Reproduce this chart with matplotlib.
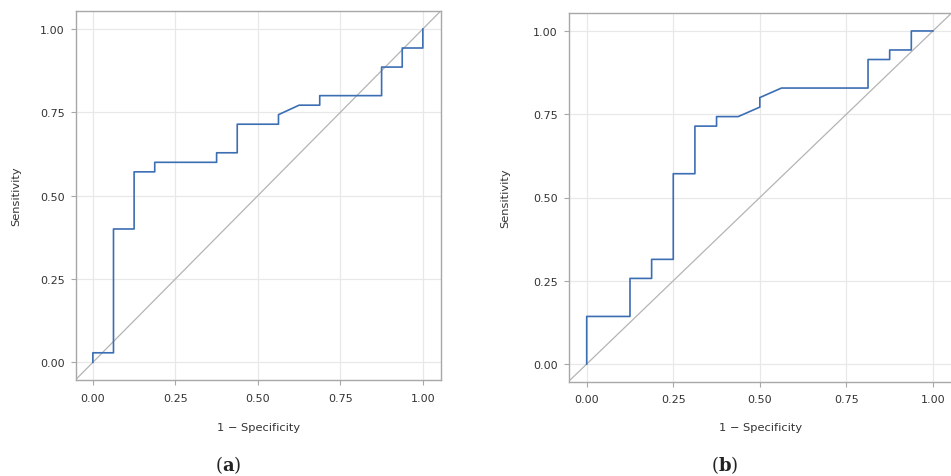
import matplotlib
matplotlib.use('Agg')
import matplotlib.pyplot as plt

# ROC curve (a): 1 - specificity vs sensitivity
fpr_a = [0.0, 0.0, 0.0625, 0.0625, 0.125, 0.125, 0.1875, 0.1875, 0.375, 0.375,
         0.4375, 0.4375, 0.5625, 0.5625, 0.625, 0.6875, 0.6875, 0.875, 0.875,
         0.9375, 0.9375, 1.0, 1.0]
tpr_a = [0.0, 0.0286, 0.0286, 0.4, 0.4, 0.5714, 0.5714, 0.6, 0.6, 0.6286,
         0.6286, 0.7143, 0.7143, 0.7429, 0.7714, 0.7714, 0.8, 0.8, 0.8857,
         0.8857, 0.9429, 0.9429, 1.0]

# ROC curve (b)
fpr_b = [0.0, 0.0, 0.125, 0.125, 0.1875, 0.1875, 0.25, 0.25, 0.3125, 0.3125,
         0.375, 0.375, 0.4375, 0.5, 0.5, 0.5625, 0.8125, 0.8125, 0.875, 0.875,
         0.9375, 0.9375, 1.0]
tpr_b = [0.0, 0.1429, 0.1429, 0.2571, 0.2571, 0.3143, 0.3143, 0.5714, 0.5714,
         0.7143, 0.7143, 0.7429, 0.7429, 0.7714, 0.8, 0.8286, 0.8286, 0.9143,
         0.9143, 0.9429, 0.9429, 1.0, 1.0]

ticks = [0.0, 0.25, 0.5, 0.75, 1.0]
tick_labels = ['0.00', '0.25', '0.50', '0.75', '1.00']
captions = ['a', 'b']

plt.rcParams['font.family'] = 'DejaVu Sans'
plt.rcParams['mathtext.fontset'] = 'dejavuserif'

fig = plt.figure(figsize=(9.51, 4.77), dpi=100)

W, H = 951.0, 477.0
boxes = [(75.7, 441.0, 12.3, 381.0), (568.7, 952.0, 14.3, 382.7)]
ylab_x = [21.0, 510.0]
cap_x = [228.0, 725.0]

for i, (fx, fy) in enumerate([(fpr_a, tpr_a), (fpr_b, tpr_b)]):
    l, r, t, b = boxes[i]
    ax = fig.add_axes([l / W, 1 - b / H, (r - l) / W, (b - t) / H])
    ax.set_xlim(-0.052, 1.055)
    ax.set_ylim(-0.053, 1.053)
    ax.plot([-0.1, 1.1], [-0.1, 1.1], color='#b4b4b4', lw=0.9, zorder=2)
    ax.plot(fx, fy, color='#3c6eb4', lw=1.2, zorder=3)

    ax.set_xticks(ticks)
    ax.set_xticklabels(tick_labels)
    ax.set_yticks(ticks)
    ax.set_yticklabels(tick_labels)
    ax.grid(True, color='#e8e8e8', lw=0.9, zorder=0)
    ax.set_axisbelow(True)
    for s in ax.spines.values():
        s.set_color('#a8a8a8')
        s.set_linewidth(1.0)
    ax.tick_params(axis='both', length=3.5, width=0.8, color='#a8a8a8',
                   labelsize=8, labelcolor='#333333')
    ax.tick_params(axis='x', pad=5.5)
    ax.tick_params(axis='y', pad=4.5)

    ax.set_xlabel('1 \u2212 Specificity', fontsize=8.2, color='#333333')
    ax.set_ylabel('Sensitivity', fontsize=8.2, color='#333333')
    ax.xaxis.set_label_coords(((l + r) / 2 - l) / (r - l), (b - 423.0) / (b - t))
    ax.yaxis.set_label_coords((ylab_x[i] - l) / (r - l), 0.5)

    fig.text(cap_x[i] / W, 1 - 465.0 / H, r'($\mathbf{' + captions[i] + r'}$)',
             ha='center', va='center', fontsize=13, family='DejaVu Serif',
             color='#222222')

fig.savefig('out.png', dpi=100)
